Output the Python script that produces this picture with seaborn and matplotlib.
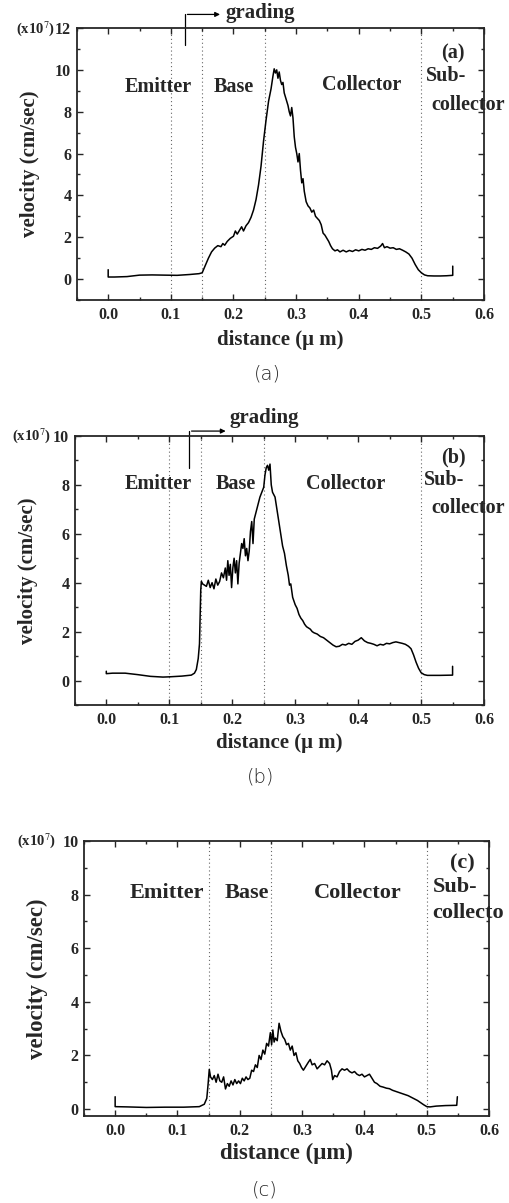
import numpy as np
import pandas as pd
import matplotlib
matplotlib.use("Agg")
import matplotlib.pyplot as plt
from matplotlib.ticker import MultipleLocator, FormatStrFormatter
import seaborn as sns

# ---- data (velocity in 1e7 cm/sec vs distance in um) ----
x_a = [0.000, 0.000, 0.010, 0.030, 0.050, 0.070, 0.090, 0.110, 0.130, 0.145, 0.150, 0.155,
       0.160, 0.165, 0.170, 0.175, 0.180, 0.183, 0.186, 0.190, 0.195, 0.200, 0.203, 0.206,
       0.210, 0.213, 0.216, 0.220, 0.224, 0.228, 0.232, 0.236, 0.240, 0.244, 0.248, 0.252,
       0.256, 0.260, 0.263, 0.265, 0.267, 0.269, 0.271, 0.273, 0.275, 0.277, 0.279, 0.281,
       0.283, 0.285, 0.287, 0.289, 0.291, 0.293, 0.295, 0.297, 0.299, 0.301, 0.303, 0.305,
       0.307, 0.309, 0.311, 0.313, 0.316, 0.319, 0.322, 0.325, 0.328, 0.331, 0.334, 0.337,
       0.340, 0.343, 0.346, 0.349, 0.352, 0.355, 0.358, 0.362, 0.366, 0.370, 0.375, 0.380,
       0.385, 0.390, 0.395, 0.400, 0.405, 0.410, 0.415, 0.420, 0.425, 0.430, 0.435, 0.438,
       0.441, 0.445, 0.450, 0.455, 0.460, 0.465, 0.470, 0.475, 0.480, 0.485, 0.490, 0.495,
       0.500, 0.505, 0.510, 0.520, 0.530, 0.540, 0.550, 0.550]
v_a = [0.45, 0.10, 0.10, 0.12, 0.19, 0.20, 0.19, 0.18, 0.22, 0.26, 0.30, 0.65,
       1.00, 1.30, 1.48, 1.60, 1.55, 1.70, 1.62, 1.80, 1.95, 2.05, 2.30, 2.15,
       2.35, 2.50, 2.30, 2.55, 2.70, 2.95, 3.30, 3.80, 4.50, 5.40, 6.60, 7.60,
       8.50, 9.10, 9.70, 10.05, 9.85, 10.00, 9.60, 9.90, 9.50, 9.30, 9.40, 8.90,
       8.70, 8.50, 8.30, 8.00, 7.80, 8.20, 7.70, 6.80, 6.30, 6.00, 5.60, 6.00,
       5.20, 4.60, 4.80, 4.20, 3.70, 3.50, 3.40, 3.20, 3.30, 3.00, 2.90, 2.80,
       2.60, 2.20, 2.10, 1.95, 1.80, 1.60, 1.45, 1.35, 1.40, 1.30, 1.38, 1.30,
       1.37, 1.32, 1.40, 1.35, 1.42, 1.38, 1.45, 1.42, 1.50, 1.47, 1.58, 1.70,
       1.50, 1.55, 1.48, 1.50, 1.42, 1.45, 1.38, 1.30, 1.20, 1.00, 0.70, 0.45,
       0.30, 0.20, 0.16, 0.15, 0.15, 0.16, 0.18, 0.62]

x_b = [0.000, 0.000, 0.010, 0.030, 0.050, 0.070, 0.090, 0.100, 0.120, 0.135, 0.140, 0.143,
       0.146, 0.148, 0.149, 0.150, 0.151, 0.153, 0.156, 0.159, 0.162, 0.165, 0.168, 0.171,
       0.174, 0.177, 0.180, 0.183, 0.186, 0.189, 0.191, 0.193, 0.195, 0.197, 0.199, 0.201,
       0.203, 0.205, 0.207, 0.209, 0.211, 0.213, 0.215, 0.217, 0.219, 0.221, 0.223, 0.225,
       0.227, 0.229, 0.231, 0.233, 0.235, 0.238, 0.241, 0.244, 0.247, 0.250, 0.252, 0.254,
       0.256, 0.258, 0.260, 0.262, 0.264, 0.266, 0.268, 0.271, 0.274, 0.277, 0.280, 0.283,
       0.286, 0.289, 0.291, 0.293, 0.296, 0.300, 0.303, 0.306, 0.309, 0.312, 0.315, 0.318,
       0.321, 0.324, 0.327, 0.330, 0.335, 0.340, 0.345, 0.350, 0.355, 0.360, 0.365, 0.370,
       0.375, 0.380, 0.385, 0.390, 0.395, 0.400, 0.405, 0.410, 0.415, 0.420, 0.425, 0.430,
       0.435, 0.440, 0.445, 0.450, 0.455, 0.460, 0.465, 0.470, 0.475, 0.480, 0.484, 0.488,
       0.492, 0.496, 0.500, 0.505, 0.510, 0.530, 0.550, 0.550]
v_b = [0.38, 0.28, 0.30, 0.30, 0.24, 0.17, 0.14, 0.15, 0.18, 0.22, 0.30, 0.45,
       0.90, 1.50, 2.60, 3.70, 4.05, 3.95, 3.90, 3.85, 4.10, 3.80, 4.00, 3.75,
       4.15, 3.90, 4.05, 4.40, 4.20, 4.60, 4.10, 4.90, 4.30, 4.75, 3.80, 4.60,
       5.00, 4.40, 4.90, 3.95, 4.80, 5.20, 5.60, 5.40, 5.80, 5.10, 5.40, 4.90,
       5.30, 6.10, 6.50, 5.60, 6.60, 6.90, 7.20, 7.50, 7.70, 7.90, 8.40, 8.70,
       8.80, 8.60, 8.85, 8.00, 7.70, 7.60, 7.50, 7.00, 6.50, 6.00, 5.50, 5.20,
       4.70, 4.30, 3.90, 3.95, 3.40, 3.10, 2.95, 2.70, 2.55, 2.45, 2.30, 2.20,
       2.15, 2.10, 2.00, 1.95, 1.90, 1.80, 1.75, 1.65, 1.55, 1.45, 1.38, 1.40,
       1.48, 1.45, 1.52, 1.48, 1.60, 1.65, 1.75, 1.62, 1.55, 1.52, 1.48, 1.42,
       1.48, 1.45, 1.52, 1.50, 1.55, 1.58, 1.55, 1.52, 1.48, 1.40, 1.30, 1.05,
       0.75, 0.50, 0.32, 0.24, 0.21, 0.21, 0.22, 0.58]

x_c = [0.000, 0.000, 0.020, 0.050, 0.080, 0.110, 0.135, 0.143, 0.147, 0.149, 0.151, 0.153,
       0.156, 0.159, 0.162, 0.165, 0.168, 0.171, 0.174, 0.177, 0.180, 0.183, 0.186, 0.189,
       0.192, 0.195, 0.198, 0.201, 0.204, 0.207, 0.210, 0.213, 0.216, 0.219, 0.222, 0.225,
       0.228, 0.231, 0.234, 0.237, 0.240, 0.243, 0.246, 0.249, 0.251, 0.253, 0.255, 0.257,
       0.260, 0.263, 0.266, 0.269, 0.272, 0.275, 0.278, 0.281, 0.284, 0.287, 0.290, 0.293,
       0.296, 0.299, 0.302, 0.306, 0.310, 0.313, 0.316, 0.320, 0.324, 0.328, 0.332, 0.336,
       0.340, 0.344, 0.347, 0.349, 0.352, 0.356, 0.360, 0.364, 0.368, 0.372, 0.376, 0.380,
       0.384, 0.388, 0.392, 0.396, 0.400, 0.404, 0.408, 0.412, 0.416, 0.420, 0.425, 0.430,
       0.435, 0.440, 0.445, 0.450, 0.455, 0.460, 0.465, 0.470, 0.475, 0.480, 0.485, 0.490,
       0.495, 0.500, 0.505, 0.515, 0.530, 0.548, 0.549]
v_c = [0.46, 0.09, 0.08, 0.06, 0.07, 0.07, 0.09, 0.18, 0.40, 0.90, 1.48, 1.20,
       1.10, 1.25, 1.00, 1.30, 1.05, 1.00, 1.20, 0.75, 0.95, 0.85, 1.05, 0.90,
       1.10, 0.95, 1.05, 0.95, 1.15, 1.05, 1.20, 1.10, 1.15, 1.45, 1.40, 1.65,
       1.55, 2.00, 1.85, 2.20, 2.05, 2.45, 2.35, 2.85, 2.40, 2.95, 2.50, 2.65,
       2.55, 3.20, 2.90, 2.70, 2.60, 2.40, 2.45, 2.20, 2.35, 2.00, 2.10, 1.80,
       1.70, 1.55, 1.45, 1.60, 1.75, 1.85, 1.65, 1.70, 1.50, 1.60, 1.70, 1.65,
       1.80, 1.70, 1.45, 1.10, 1.25, 1.20, 1.40, 1.50, 1.45, 1.50, 1.40, 1.35,
       1.40, 1.30, 1.25, 1.30, 1.20, 1.25, 1.30, 1.15, 1.00, 0.95, 0.85, 0.82,
       0.78, 0.76, 0.70, 0.66, 0.62, 0.58, 0.54, 0.50, 0.44, 0.38, 0.32, 0.24,
       0.16, 0.09, 0.08, 0.11, 0.13, 0.14, 0.46]

region_names = ["Emitter", "Base", "Collector"]
x_ticks = [0.0, 0.1, 0.2, 0.3, 0.4, 0.5, 0.6]

sns.set_style("ticks")
plt.rcParams["font.family"] = ["Liberation Serif", "DejaVu Serif"]
plt.rcParams["mathtext.fontset"] = "stix"

fig = plt.figure(figsize=(5.09, 12.03), dpi=100)

# panel configs: axes rect, ylim, boundary lines, label positions
panels = [
    dict(x=x_a, v=v_a, rect=[0.151, 0.7506, 0.800, 0.2261], ylim=(-1, 12), bounds=[0.1, 0.15, 0.25, 0.5],
         tag="(a)", cap="(a)", cap_xy=(0.525, 0.689), sub="collector", xlab="distance (μ m)",
         names_xy=[(0.080, 9.2), (0.200, 9.2), (0.405, 9.3)], tag_xy=(0.551, 10.8),
         sub_xy=(0.540, 9.7), col_xy=(0.574, 8.3), sub_ha="center",
         grading=dict(x0=0.122, y0=11.2, y1=12.65, x1=0.183, tx=0.187, ty=12.7),
         xlab_y=-0.147, unit_off=-16, fs_txt=14.5, fs_tick=11.5, fs_lab=15),
    dict(x=x_b, v=v_b, rect=[0.147, 0.4140, 0.804, 0.2236], ylim=(-1, 10), bounds=[0.1, 0.15, 0.25, 0.5],
         tag="(b)", cap="(b)", cap_xy=(0.511, 0.354), sub="collector", xlab="distance (μ m)",
         names_xy=[(0.083, 8.05), (0.205, 8.05), (0.380, 8.05)], tag_xy=(0.551, 9.1),
         sub_xy=(0.537, 8.2), col_xy=(0.574, 7.05), sub_ha="center",
         grading=dict(x0=0.131, y0=8.7, y1=10.2, x1=0.194, tx=0.195, ty=10.72),
         xlab_y=-0.141, unit_off=-17, fs_txt=14.5, fs_tick=11.5, fs_lab=15),
    dict(x=x_c, v=v_c, rect=[0.165, 0.0723, 0.796, 0.2286], ylim=(-0.26, 10), bounds=[0.15, 0.25, 0.5],
         tag="(c)", cap="(c)", cap_xy=(0.521, 0.011), sub="collecto", xlab="distance (μm)",
         names_xy=[(0.083, 8.05), (0.212, 8.05), (0.390, 8.05)], tag_xy=(0.557, 9.15),
         sub_xy=(0.509, 8.3), col_xy=(0.509, 7.3), sub_ha="left", grading=None,
         xlab_y=-0.135, unit_off=-20, fs_txt=16, fs_tick=11.5, fs_lab=16.5),
]

for p in panels:
    ax = fig.add_axes(p["rect"])
    df = pd.DataFrame({"distance": p["x"], "velocity": p["v"]})
    sns.lineplot(data=df, x="distance", y="velocity", ax=ax, sort=False, estimator=None,
                 color="black", linewidth=1.1)
    for b in p["bounds"]:
        ax.axvline(b, color="#666666", linestyle=(0, (1, 2.5)), linewidth=0.8, zorder=0)

    ax.set_xlim(-0.05, 0.6)
    ax.set_ylim(*p["ylim"])
    ax.set_xticks(x_ticks)
    ax.xaxis.set_minor_locator(MultipleLocator(0.05))
    ax.yaxis.set_major_locator(MultipleLocator(2))
    ax.yaxis.set_minor_locator(MultipleLocator(1))
    ax.xaxis.set_major_formatter(FormatStrFormatter("%.1f"))
    ax.yaxis.set_major_formatter(FormatStrFormatter("%d"))
    ax.tick_params(which="both", direction="in", top=True, right=True, width=1.0)
    ax.tick_params(which="major", length=4, labelsize=p["fs_tick"])
    ax.tick_params(axis="x", which="major", pad=5)
    ax.tick_params(axis="y", which="major", pad=4)
    ax.tick_params(which="minor", length=2)
    for lab in ax.get_xticklabels() + ax.get_yticklabels():
        lab.set_fontweight("bold")
    for s in ax.spines.values():
        s.set_linewidth(1.3)

    ax.set_xlabel(p["xlab"], fontsize=p["fs_lab"], fontweight="bold")
    ax.xaxis.set_label_coords(0.5, p["xlab_y"])
    ax.xaxis.label.set_va("center")
    ax.set_ylabel("velocity (cm/sec)", fontsize=p["fs_lab"], fontweight="bold")
    ax.yaxis.set_label_coords(-0.115, 0.5)
    ax.yaxis.label.set_va("center")

    # (x10^7) unit marker next to the top tick label
    ax.annotate(r"(x10$^{7}$)", xy=(0, 1), xycoords="axes fraction", xytext=(p["unit_off"], 0),
                textcoords="offset points", ha="right", va="center", fontsize=10.5, fontweight="bold")

    for name, (tx, ty) in zip(region_names, p["names_xy"]):
        ax.text(tx, ty, name, ha="center", va="center", fontsize=p["fs_txt"], fontweight="bold")
    ax.text(p["tag_xy"][0], p["tag_xy"][1], p["tag"], ha="center", va="center",
            fontsize=p["fs_txt"], fontweight="bold")
    ax.text(p["sub_xy"][0], p["sub_xy"][1], "Sub-", ha=p["sub_ha"],
            va="center", fontsize=p["fs_txt"], fontweight="bold", clip_on=False)
    ax.text(p["col_xy"][0], p["col_xy"][1], p["sub"], ha=p["sub_ha"],
            va="center", fontsize=p["fs_txt"], fontweight="bold", clip_on=False)

    g = p["grading"]
    if g is not None:
        ax.plot([g["x0"], g["x0"]], [g["y0"], g["y1"]], color="black", linewidth=0.9, clip_on=False)
        ax.annotate("", xy=(g["x1"], g["y1"]), xytext=(g["x0"], g["y1"]),
                    arrowprops=dict(arrowstyle="-|>", color="black", lw=0.9, mutation_scale=7),
                    annotation_clip=False)
        ax.text(g["tx"], g["ty"], "grading", ha="left", va="center", fontsize=15,
                fontweight="bold", clip_on=False)

    fig.text(p["cap_xy"][0], p["cap_xy"][1], p["cap"], ha="center", va="center",
             fontsize=14, family="DejaVu Sans", fontweight="light")

fig.savefig("out.png", dpi=100)
